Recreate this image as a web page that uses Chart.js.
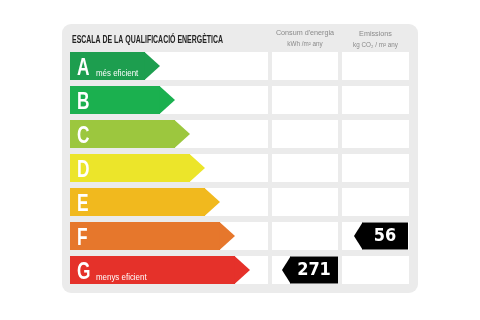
<!DOCTYPE html>
<html>
<head>
<meta charset="utf-8">
<script src="https://cdn.jsdelivr.net/npm/chart.js@4.4.1/dist/chart.umd.min.js"></script>
<style>
  html, body { margin: 0; background: #fff; }
  #wrap { position: relative; width: 480px; height: 320px; }
  #panel { position: absolute; left: 62px; top: 24px; width: 356px; height: 269px; background: #ebebeb; border-radius: 9px; }
  #chart { position: absolute; left: 0; top: 0; }
</style>
</head>
<body>
<div id="wrap">
  <div id="panel"></div>
  <canvas id="chart" width="480" height="320"></canvas>
</div>
<script>
// Rating scale
const grades = ["A", "B", "C", "D", "E", "F", "G"];
const gradeSteps = [5, 6, 7, 8, 9, 10, 11]; // arrow length, in scale steps
const gradeColors = ["#1d9e4f", "#1bb04f", "#9cc73e", "#ece52a", "#f1b91e", "#e6772c", "#e5312a"];
const gradeNotes = ["més eficient", "", "", "", "", "", "menys eficient"];

// Results
const energyValue = 271;
const energyGrade = "G";
const emissionValue = 56;
const emissionGrade = "F";

// Texts
const title = "ESCALA DE LA QUALIFICACIÓ ENERGÈTICA";
const energyHeader = ["Consum d'energia", "kWh /m² any"];
const emissionHeader = ["Emissions", "kg CO₂ / m² any"];

// Layout (1 step = 15px)
const STEP = 15;
const cols = {
  left: [0, 198 / STEP],
  mid: [202 / STEP, 268 / STEP],
  right: [272 / STEP, 339 / STEP],
};
const energyBox = [220 / STEP, 268 / STEP];
const emissionBox = [292 / STEP, 338 / STEP];

const SANS = '"Liberation Sans", Arial, sans-serif';

function cellData(range) {
  return grades.map(() => range);
}

function markerData(grade, box) {
  return grades.map((g) => (g === grade ? box : null));
}

// Text squeezed horizontally (condensed look)
function fillSqueezed(ctx, text, x, y, squeeze) {
  ctx.save();
  ctx.translate(x, y);
  ctx.scale(squeeze, 1);
  ctx.fillText(text, 0, 0);
  ctx.restore();
}

// Draws arrow tips, letters, markers and headers
const labelPlugin = {
  id: "labelPlugin",
  afterDatasetsDraw(chart) {
    const ctx = chart.ctx;
    ctx.save();

    // Rating arrows
    const barMeta = chart.getDatasetMeta(3);
    barMeta.data.forEach((bar, i) => {
      const h = bar.height;
      const top = bar.y - h / 2;
      ctx.fillStyle = gradeColors[i];
      ctx.beginPath();
      ctx.moveTo(bar.x - 0.5, top);
      ctx.lineTo(bar.x + 15, bar.y);
      ctx.lineTo(bar.x - 0.5, top + h);
      ctx.closePath();
      ctx.fill();

      ctx.fillStyle = "#fff";
      ctx.textBaseline = "alphabetic";
      ctx.textAlign = "left";
      ctx.font = "bold 24px " + SANS;
      fillSqueezed(ctx, grades[i], bar.base + 7, bar.y + 9, 0.72);
      if (gradeNotes[i]) {
        ctx.font = "9px " + SANS;
        fillSqueezed(ctx, gradeNotes[i], bar.base + 26, bar.y + 10, 0.88);
      }
    });

    // Result markers
    [[4, energyValue], [5, emissionValue]].forEach(([idx, value]) => {
      const raw = chart.data.datasets[idx].data;
      chart.getDatasetMeta(idx).data.forEach((el, j) => {
        if (raw[j] == null) return;
        const h = el.height;
        const top = el.y - h / 2;
        ctx.fillStyle = "#000";
        ctx.beginPath();
        ctx.moveTo(el.base + 0.5, top);
        ctx.lineTo(el.base - 8, el.y);
        ctx.lineTo(el.base + 0.5, top + h);
        ctx.closePath();
        ctx.fill();
        ctx.fillStyle = "#fff";
        ctx.font = "bold 17px 'DejaVu Sans', sans-serif";
        ctx.textAlign = "center";
        ctx.textBaseline = "middle";
        fillSqueezed(ctx, String(value), (el.base + el.x) / 2, el.y + 1, 0.95);
      });
    });

    // Headers
    const x = chart.scales.x;
    ctx.fillStyle = "#222";
    ctx.textAlign = "left";
    ctx.textBaseline = "alphabetic";
    ctx.font = "bold 10px " + SANS;
    const tw = ctx.measureText(title).width;
    fillSqueezed(ctx, title, x.getPixelForValue(0) + 2, 43, 151 / tw);

    ctx.fillStyle = "#8a8a8a";
    ctx.textAlign = "center";
    const midX = (x.getPixelForValue(cols.mid[0]) + x.getPixelForValue(cols.mid[1])) / 2;
    const rightX = (x.getPixelForValue(cols.right[0]) + x.getPixelForValue(cols.right[1])) / 2;
    ctx.font = "8px " + SANS;
    fillSqueezed(ctx, energyHeader[0], midX, 35, 0.9);
    fillSqueezed(ctx, emissionHeader[0], rightX, 36, 0.9);
    ctx.font = "7px " + SANS;
    fillSqueezed(ctx, energyHeader[1], midX, 46, 0.9);
    fillSqueezed(ctx, emissionHeader[1], rightX, 47, 0.9);

    ctx.restore();
  },
};

const cellStyle = {
  backgroundColor: "#ffffff",
  grouped: false,
  barPercentage: 0.83,
  categoryPercentage: 1,
  order: 5,
};

new Chart(document.getElementById("chart"), {
  type: "bar",
  data: {
    labels: grades,
    datasets: [
      { ...cellStyle, data: cellData(cols.left) },
      { ...cellStyle, data: cellData(cols.mid) },
      { ...cellStyle, data: cellData(cols.right) },
      {
        data: gradeSteps.map((s) => [0, s]),
        backgroundColor: gradeColors,
        grouped: false,
        barPercentage: 0.83,
        categoryPercentage: 1,
        order: 1,
      },
      {
        data: markerData(energyGrade, energyBox),
        backgroundColor: "#000",
        grouped: false,
        barPercentage: 0.8,
        categoryPercentage: 1,
        order: 1,
      },
      {
        data: markerData(emissionGrade, emissionBox),
        backgroundColor: "#000",
        grouped: false,
        barPercentage: 0.8,
        categoryPercentage: 1,
        order: 1,
      },
    ],
  },
  options: {
    indexAxis: "y",
    responsive: false,
    animation: false,
    layout: { padding: { left: 70, right: 70, top: 49, bottom: 33 } },
    scales: {
      x: { type: "linear", min: 0, max: 340 / STEP, display: false },
      y: { type: "category", display: false },
    },
    plugins: {
      legend: { display: false },
      tooltip: { enabled: false },
    },
  },
  plugins: [labelPlugin],
});
</script>
</body>
</html>
